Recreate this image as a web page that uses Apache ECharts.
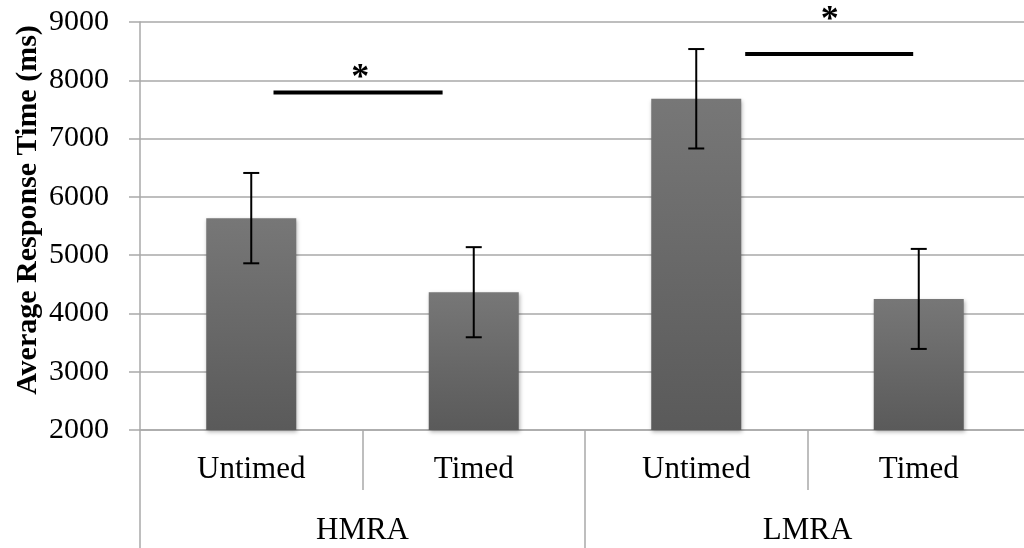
<!DOCTYPE html>
<html>
<head>
<meta charset="utf-8">
<script src="https://cdn.jsdelivr.net/npm/echarts@6/dist/echarts.min.js"></script>
<style>
html,body{margin:0;padding:0;background:#fff;}
#chart{width:1024px;height:548px;}
</style>
</head>
<body>
<div id="chart"></div>
<script>
// ---- data ----
const groups = ['HMRA', 'LMRA'];
const conditions = ['Untimed', 'Timed', 'Untimed', 'Timed'];
const meanRT = [5635, 4364, 7683, 4249];
const errRT = [775, 773, 853, 858];
const yMin = 2000, yMax = 9000, yStep = 1000;
const yTitle = 'Average Response Time (ms)';
// significance annotations (category-index positions, value levels)
const sigFrom = [0.10, 2.22];
const sigTo = [0.86, 2.975];
const sigLevel = [7790, 8450];
const starAt = [0.49, 2.60];
const starLevel = [8130, 9125];

const serif = '"Liberation Serif", "Times New Roman", serif';
const gridColor = '#a9a9a9';

const chart = echarts.init(document.getElementById('chart'));

const errData = meanRT.map((m, i) => [i, m, errRT[i]]);
const sigData = sigFrom.map((f, i) => [f, sigTo[i], sigLevel[i], starAt[i], starLevel[i]]);

chart.setOption({
  animation: false,
  backgroundColor: '#ffffff',
  grid: { left: 140, top: 22, width: 890, height: 408, containLabel: false, outerBoundsMode: 'none' },
  xAxis: [
    {
      type: 'category',
      data: conditions,
      position: 'bottom',
      boundaryGap: true,
      axisLine: { show: true, lineStyle: { color: gridColor, width: 1.5 } },
      axisTick: { show: true, interval: 0, length: 60, lineStyle: { color: gridColor, width: 1.5 } },
      axisLabel: { interval: 0, margin: 24, color: '#000', fontSize: 31, fontFamily: serif },
      splitLine: { show: false }
    },
    {
      type: 'category',
      data: groups,
      position: 'bottom',
      boundaryGap: true,
      axisLine: { show: false },
      axisTick: { show: true, interval: 0, length: 118, lineStyle: { color: gridColor, width: 1.5 } },
      axisLabel: { interval: 0, margin: 85, color: '#000', fontSize: 31, fontFamily: serif },
      splitLine: { show: false }
    }
  ],
  yAxis: {
    type: 'value',
    min: yMin, max: yMax, interval: yStep,
    axisLine: { show: true, lineStyle: { color: gridColor, width: 1.5 } },
    axisTick: { show: true, length: 11, lineStyle: { color: gridColor, width: 1.5 } },
    axisLabel: { margin: 31, color: '#000', fontSize: 30, fontFamily: serif, formatter: (v) => String(v) },
    splitLine: { show: true, lineStyle: { color: gridColor, width: 1.5 } }
  },
  graphic: [{
    type: 'text',
    x: 28, y: 210,
    rotation: Math.PI / 2,
    style: {
      text: yTitle,
      fill: '#000',
      font: 'bold 30px ' + serif,
      textAlign: 'center',
      textVerticalAlign: 'middle'
    }
  }],
  series: [
    {
      type: 'bar',
      xAxisIndex: 0,
      data: meanRT,
      barWidth: 90,
      itemStyle: {
        color: new echarts.graphic.LinearGradient(0, 0, 0, 1, [
          { offset: 0, color: '#777777' },
          { offset: 1, color: '#5a5a5a' }
        ]),
        shadowBlur: 4,
        shadowColor: 'rgba(0,0,0,0.3)',
        shadowOffsetX: 1,
        shadowOffsetY: 2
      },
      z: 2
    },
    {
      type: 'custom',
      xAxisIndex: 0,
      data: errData,
      encode: { x: 0, y: 1 },
      z: 5,
      renderItem: function (params, api) {
        const i = api.value(0), m = api.value(1), e = api.value(2);
        const hi = api.coord([i, m + e]);
        const lo = api.coord([i, m - e]);
        const cap = 8;
        const st = { stroke: '#000', lineWidth: 2 };
        return {
          type: 'group',
          children: [
            { type: 'line', shape: { x1: hi[0], y1: hi[1], x2: lo[0], y2: lo[1] }, style: st },
            { type: 'line', shape: { x1: hi[0] - cap, y1: hi[1], x2: hi[0] + cap, y2: hi[1] }, style: st },
            { type: 'line', shape: { x1: lo[0] - cap, y1: lo[1], x2: lo[0] + cap, y2: lo[1] }, style: st }
          ]
        };
      }
    },
    {
      type: 'custom',
      xAxisIndex: 0,
      data: sigData,
      encode: { x: 0, y: 2 },
      clip: false,
      z: 6,
      renderItem: function (params, api) {
        const f = api.value(0), t = api.value(1), lvl = api.value(2);
        const s = api.value(3), sl = api.value(4);
        const a = api.coord([0, lvl]), b = api.coord([1, lvl]);
        const band = b[0] - a[0];
        const fx = (v) => a[0] + v * band;
        const ys = api.coord([0, sl])[1];
        return {
          type: 'group',
          children: [
            { type: 'line', shape: { x1: fx(f), y1: a[1], x2: fx(t), y2: a[1] }, style: { stroke: '#000', lineWidth: 4 } },
            { type: 'text', x: fx(s), y: ys + 6, style: { text: '*', fill: '#000', font: 'bold 36px ' + serif, textAlign: 'center', textVerticalAlign: 'middle' } }
          ]
        };
      }
    }
  ]
});
</script>
</body>
</html>
